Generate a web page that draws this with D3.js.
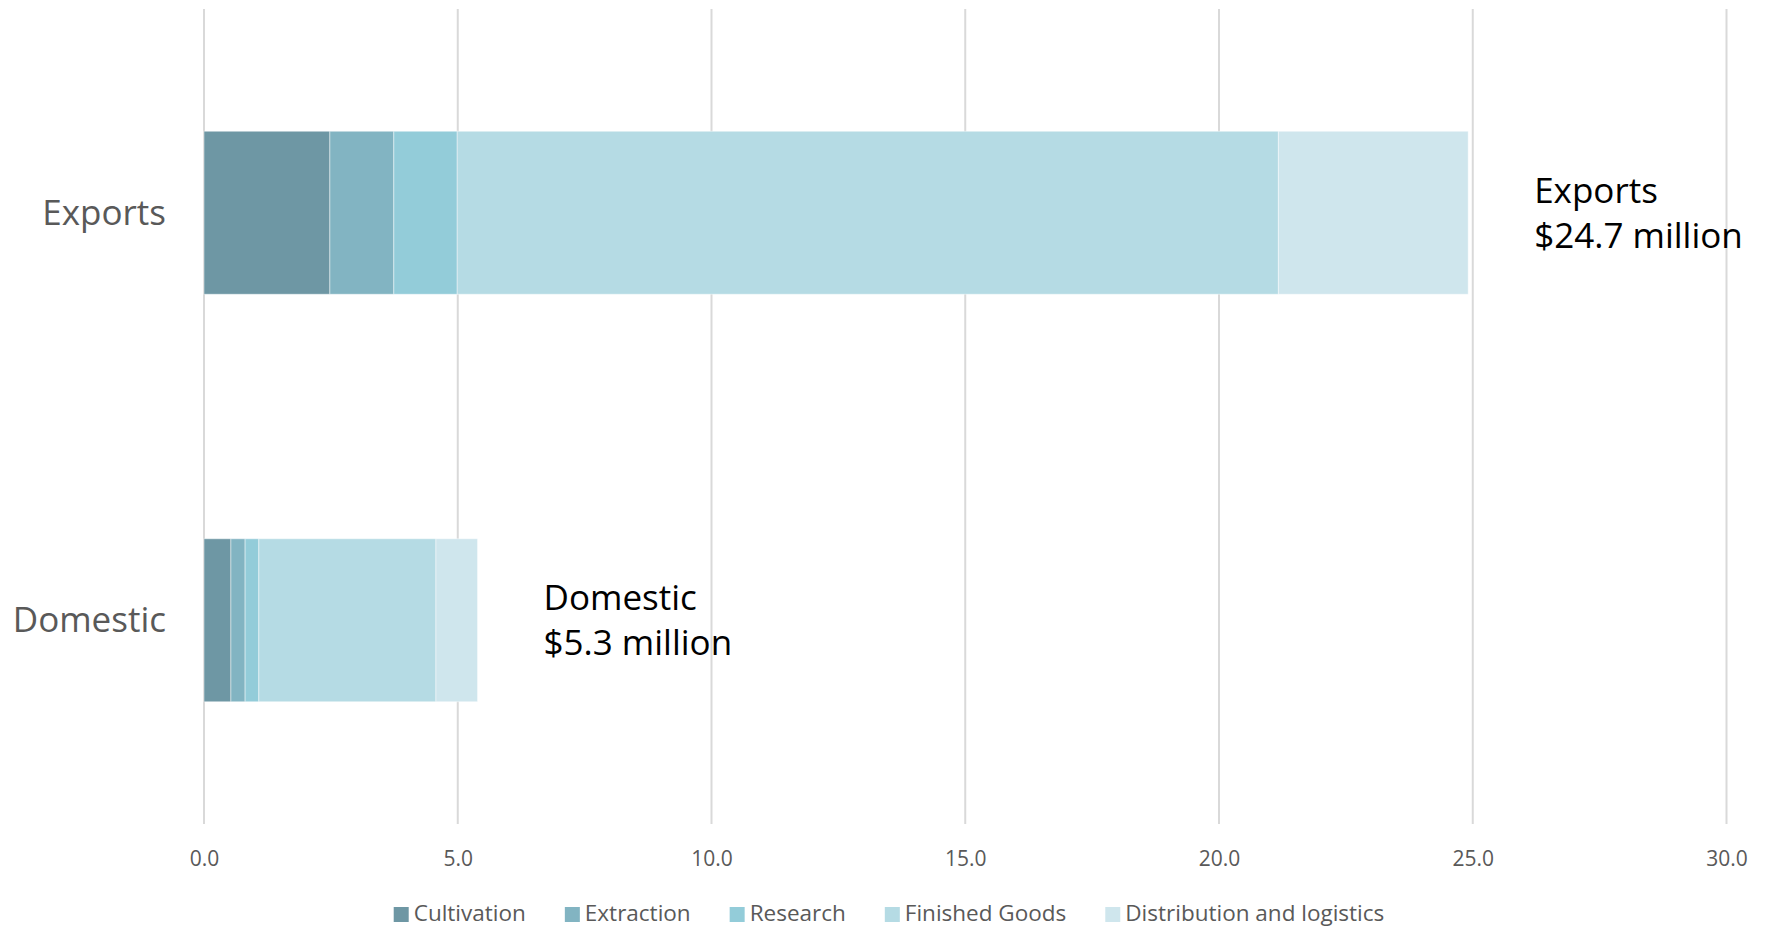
<!DOCTYPE html>
<html>
<head>
<meta charset="utf-8">
<script src="https://cdn.jsdelivr.net/npm/d3@7"></script>
<style>
  html, body { margin: 0; padding: 0; background: #fff; }
  svg { display: block; font-family: "Segoe UI", "Open Sans", "Noto Sans", sans-serif; }
</style>
</head>
<body>
<svg id="chart" width="1770" height="928"></svg>
<script>
// ---- data ----
const categories = ["Exports", "Domestic"];
const seriesNames = ["Cultivation", "Extraction", "Research", "Finished Goods", "Distribution and logistics"];
const cultivation  = [2.48, 0.53];
const extraction   = [1.26, 0.28];
const research     = [1.25, 0.27];
const finishedGoods = [16.18, 3.49];
const distribution = [3.74, 0.82];
const totalLabels = ["$24.7 million", "$5.3 million"];
const xTicks = [0, 5, 10, 15, 20, 25, 30];
const colors = ["#6E97A4", "#82B4C2", "#93CCD9", "#B5DBE4", "#CFE6ED"];

// ---- build table ----
const seriesValues = [cultivation, extraction, research, finishedGoods, distribution];
const table = categories.map((c, i) => {
  const row = { category: c };
  seriesNames.forEach((s, j) => row[s] = seriesValues[j][i]);
  return row;
});
const stacked = d3.stack().keys(seriesNames)(table);

const svg = d3.select("#chart");
const x = d3.scaleLinear().domain([0, 30]).range([204, 1726.5]);
const y = d3.scaleBand().domain(categories).range([9, 824]).paddingInner(0.6).paddingOuter(0.3);
const color = d3.scaleOrdinal().domain(seriesNames).range(colors);

// gridlines
svg.append("g").selectAll("line").data(xTicks).join("line")
  .attr("x1", d => x(d)).attr("x2", d => x(d))
  .attr("y1", 9).attr("y2", 824)
  .attr("stroke", "#d9d9d9").attr("stroke-width", 2);

// x axis labels
const xAxis = d3.axisBottom(x).tickValues(xTicks).tickFormat(d3.format(".1f")).tickSize(0).tickPadding(0);
const gx = svg.append("g").attr("transform", "translate(0,851)").call(xAxis);
gx.select(".domain").remove();
gx.selectAll("text").attr("font-size", 21).attr("fill", "#595959")
  .attr("font-family", "'Segoe UI', 'Open Sans', sans-serif")
  .attr("dy", "0.71em");

// bars
svg.append("g").selectAll("g").data(stacked).join("g")
  .attr("fill", d => color(d.key))
  .selectAll("rect").data(d => d).join("rect")
  .attr("x", d => x(d[0]))
  .attr("width", d => x(d[1]) - x(d[0]))
  .attr("y", d => y(d.data.category))
  .attr("height", y.bandwidth())
  .attr("stroke", "rgba(255,255,255,0.45)")
  .attr("stroke-width", 1);

// category labels
svg.append("g").selectAll("text").data(categories).join("text")
  .attr("x", 166)
  .attr("y", d => y(d) + y.bandwidth() / 2 + 12)
  .attr("text-anchor", "end")
  .attr("font-size", 35)
  .attr("fill", "#595959")
  .text(d => d);

// total annotations
const totals = table.map(r => d3.sum(seriesNames, s => r[s]));
const ann = svg.append("g").selectAll("text").data(categories).join("text")
  .attr("x", (d, i) => x(totals[i]) + 66)
  .attr("y", d => y(d) + y.bandwidth() / 2 - 10)
  .attr("font-size", 35)
  .attr("fill", "#000");
ann.append("tspan").text(d => d);
ann.append("tspan").attr("x", (d, i) => x(totals[i]) + 66).attr("dy", 45).text((d, i) => totalLabels[i]);

// legend
const legend = svg.append("g");
const items = legend.selectAll("g").data(seriesNames).join("g");
items.append("rect").attr("width", 15).attr("height", 15).attr("y", -15).attr("fill", d => color(d));
items.append("text").attr("x", 20).attr("y", -1).attr("font-size", 22.5).attr("fill", "#595959").text(d => d);
let cx = 0;
items.each(function() {
  const g = d3.select(this);
  g.attr("transform", `translate(${cx},0)`);
  cx += 20 + g.select("text").node().getComputedTextLength() + 39;
});
const legendWidth = cx - 39;
legend.attr("transform", `translate(${889 - legendWidth / 2},922)`);
</script>
</body>
</html>
